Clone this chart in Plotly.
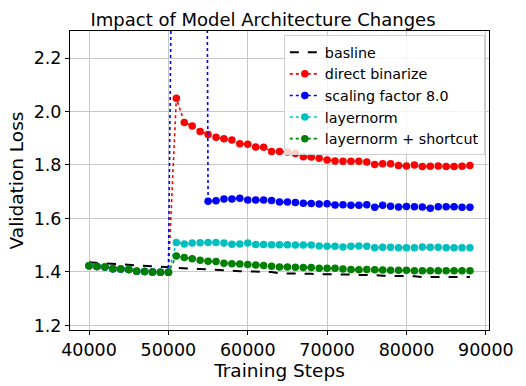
import plotly.graph_objects as go

steps = list(range(40000, 89000, 1000))

baseline = [1.436, 1.434, 1.432, 1.430, 1.428, 1.426, 1.424, 1.422, 1.421, 1.419,
            1.418, 1.416, 1.414, 1.412, 1.411, 1.409, 1.407, 1.406, 1.405, 1.403,
            1.402, 1.401, 1.401, 1.400, 1.395, 1.395, 1.394, 1.394, 1.393, 1.392,
            1.392, 1.392, 1.391, 1.390, 1.389, 1.389, 1.388, 1.386, 1.386, 1.386,
            1.385, 1.384, 1.381, 1.381, 1.381, 1.381, 1.381, 1.381, 1.381]

shared_start = [1.423, 1.420, 1.419, 1.412, 1.411, 1.409, 1.403, 1.402, 1.400, 1.399, 1.399]

direct_binarize = shared_start + [
    2.050, 1.959, 1.946, 1.925, 1.914, 1.904, 1.898, 1.893, 1.879, 1.878,
    1.867, 1.866, 1.850, 1.850, 1.849, 1.843, 1.831, 1.830, 1.825, 1.819,
    1.815, 1.814, 1.814, 1.814, 1.811, 1.802, 1.805, 1.805, 1.798, 1.796,
    1.800, 1.794, 1.795, 1.796, 1.794, 1.794, 1.795, 1.798]

scaling_factor = shared_start + [
    4.3, 6.0, 7.5, 8.5, 1.664, 1.666, 1.673, 1.673, 1.676, 1.669,
    1.669, 1.669, 1.667, 1.662, 1.662, 1.660, 1.657, 1.656, 1.654, 1.655,
    1.650, 1.651, 1.649, 1.649, 1.651, 1.642, 1.649, 1.646, 1.643, 1.645,
    1.644, 1.643, 1.638, 1.644, 1.644, 1.644, 1.642, 1.642]

layernorm = shared_start + [
    1.510, 1.505, 1.508, 1.509, 1.510, 1.510, 1.508, 1.504, 1.505, 1.508,
    1.503, 1.503, 1.502, 1.502, 1.502, 1.501, 1.501, 1.501, 1.497, 1.496,
    1.496, 1.493, 1.496, 1.497, 1.496, 1.491, 1.492, 1.492, 1.491, 1.491,
    1.491, 1.493, 1.492, 1.492, 1.491, 1.491, 1.491, 1.491]

layernorm_shortcut = shared_start + [
    1.460, 1.454, 1.449, 1.444, 1.440, 1.439, 1.433, 1.431, 1.430, 1.428,
    1.426, 1.424, 1.421, 1.419, 1.419, 1.418, 1.417, 1.417, 1.414, 1.414,
    1.414, 1.411, 1.409, 1.408, 1.409, 1.408, 1.407, 1.406, 1.406, 1.406,
    1.405, 1.405, 1.405, 1.405, 1.405, 1.405, 1.405, 1.405]

series = [
    ("direct binarize", direct_binarize, "#ff0000"),
    ("scaling factor 8.0", scaling_factor, "#0000ff"),
    ("layernorm", layernorm, "#00bfbf"),
    ("layernorm + shortcut", layernorm_shortcut, "#008000"),
]

FONT = "DejaVu Sans"

fig = go.Figure()
fig.add_trace(go.Scatter(x=steps, y=baseline, name="basline", mode="lines",
                         line=dict(color="black", width=2, dash="dash")))
for name, vals, col in series:
    fig.add_trace(go.Scatter(x=steps, y=vals, name=name, mode="lines+markers",
                             line=dict(color=col, width=1.6, dash="dot"),
                             marker=dict(color=col, size=7.5)))

axis_common = dict(showline=True, linecolor="black", linewidth=1, mirror=True,
                   ticks="outside", ticklen=4, tickcolor="black",
                   showgrid=True, gridcolor="#c8c8c8", gridwidth=1,
                   zeroline=False, tickfont=dict(family=FONT, size=17.5, color="black"))

fig.update_layout(
    width=526, height=386,
    margin=dict(l=70, r=32, t=31, b=45),
    paper_bgcolor="white", plot_bgcolor="white",
    title=dict(text="Impact of Model Architecture Changes", x=0.5, xanchor="center",
               y=0.95, yanchor="middle",
               font=dict(family=FONT, size=18, color="black")),
    xaxis=dict(range=[37600, 90400], tickvals=[40000, 50000, 60000, 70000, 80000, 90000],
               ticktext=["40000", "50000", "60000", "70000", "80000", "90000"],
               title=dict(text="Training Steps", standoff=1,
                          font=dict(family=FONT, size=18.5, color="black")),
               **axis_common),
    yaxis=dict(range=[1.183, 2.301], tickvals=[1.2, 1.4, 1.6, 1.8, 2.0, 2.2],
               ticktext=["1.2", "1.4", "1.6", "1.8", "2.0", "2.2"],
               title=dict(text="Validation Loss", standoff=5,
                          font=dict(family=FONT, size=18.5, color="black")),
               **axis_common),
    legend=dict(x=0.99, xanchor="right", y=0.985, yanchor="top",
                bgcolor="rgba(255,255,255,0.8)", bordercolor="#d0d0d0", borderwidth=1,
                font=dict(family=FONT, size=14.3, color="black"),
                tracegroupgap=0, itemwidth=30),
    showlegend=True,
)

fig.write_html("out.html")
